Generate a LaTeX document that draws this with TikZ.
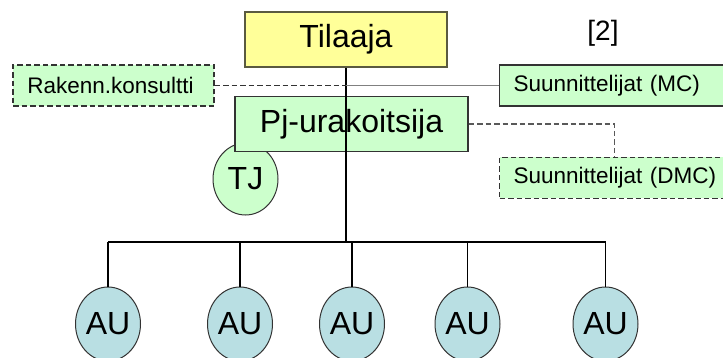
\documentclass[tikz,border=0pt]{standalone}
\usepackage{fontspec}
\setmainfont{Liberation Sans}
\usetikzlibrary{shapes.geometric}
\definecolor{boxyellow}{HTML}{FFFF99}
\definecolor{boxgreen}{HTML}{CCFFCC}
\definecolor{unitblue}{HTML}{B9DFE3}
\definecolor{edgedark}{HTML}{333333}
\definecolor{edgeolive}{HTML}{5A5A40}
\tikzset{
  x=1pt, y=-1pt,
  mainbox/.style={rectangle, draw=edgedark, line width=1.2pt, inner sep=0pt,
    font=\fontsize{32}{36}\selectfont},
  sidebox/.style={rectangle, fill=boxgreen, draw=edgedark, line width=1.2pt,
    anchor=west, inner xsep=14pt, inner ysep=0pt, text width=202pt, align=left,
    minimum height=41pt, font=\fontsize{22.5}{26}\selectfont},
  oval/.style={ellipse, draw=edgedark, line width=1pt, inner sep=0pt,
    minimum width=65pt, font=\fontsize{32}{36}\selectfont},
  unit/.style={oval, fill=unitblue, minimum height=74pt},
  link/.style={line width=1.3pt, draw=black},
  dashlink/.style={line width=1.3pt, dashed, dash pattern=on 5.5pt off 3pt}
}
\begin{document}
\begin{tikzpicture}
\useasboundingbox (0,0) rectangle (723,358);

% subcontractor units
\foreach \i/\ux in {1/108, 2/240, 3/352, 4/467.5, 5/605.5}
  \node[unit] (au\i) at (\ux,324) {AU};

% site manager, partly hidden by the main contractor box
\node[oval, fill=boxgreen, minimum height=72pt] (tj) at (245.5,179) {TJ};

% client and main contractor
\node[mainbox, fill=boxyellow, draw=edgeolive, minimum width=202pt, minimum height=55pt]
  (tilaaja) at (346,39.5) {Tilaaja};
\node[mainbox, fill=boxgreen, minimum width=233pt, minimum height=55pt]
  (pj) at (351.5,124) {Pj-urakoitsija};

% consultants and designers
\node[rectangle, fill=boxgreen, draw=edgedark, dashlink, inner sep=0pt,
  minimum width=201pt, minimum height=41pt, font=\fontsize{22.5}{26}\selectfont]
  (rak) at (113.5,85.5) {Rakenn.konsultti\hspace*{6pt}};
\node[sidebox] (mc) at (499,85.5) {\mbox{Suunnittelijat (MC)}};
\node[sidebox, dashlink] (dmc) at (499,178) {\mbox{Suunnittelijat (DMC)}};

\node[font=\fontsize{28}{32}\selectfont] (ref) at (603,33) {[2]};

% hierarchy lines
\coordinate (hub) at (346,242);
\coordinate (busL) at (108,242);
\coordinate (busR) at (605.5,242);
\draw[link] (tilaaja.south) -- (hub);
\draw[link] (busL) -- (busR);
\foreach \i in {1,...,5}
  \draw[link] (au\i.north) -- (au\i.north |- hub);

% side relations
\draw[dashlink, draw=edgedark] (rak.east) -- (rak.east -| hub);
\draw[line width=1.3pt, draw=gray] (mc.west) -- (mc.west -| hub);
\draw[dashlink, draw=gray!70!black] (pj.east) -| (dmc.north);
\end{tikzpicture}
\end{document}
